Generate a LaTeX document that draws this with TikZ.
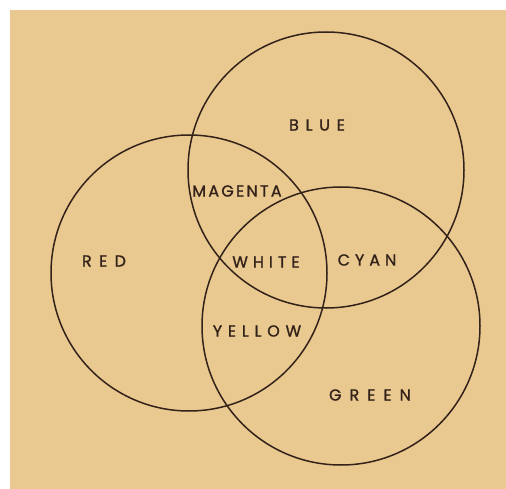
\documentclass[tikz,border=0pt]{standalone}
\usepackage{fontspec}
\newfontfamily\labelfont{Poppins}[FakeBold=1.2]
\definecolor{tan}{RGB}{234,201,144}
\definecolor{ink}{RGB}{50,34,26}
\begin{document}
\begin{tikzpicture}[x=1pt,y=-1pt,
  ring/.style={draw=ink,line width=1.5pt},
  lbl/.style={font=\labelfont\fontsize{16}{18}\selectfont, text=ink, inner sep=0pt}]
\useasboundingbox (0,0) rectangle (506,489);
\fill[white] (0,0) rectangle (506,489);
\fill[tan] (10,10) rectangle (506,489);
\draw[ring] (326,170) circle (138);
\draw[ring] (189,273) circle (138);
\draw[ring] (341,326) circle (139);
\node[lbl] (blue) at (317,125) {\addfontfeatures{LetterSpace=42}BLUE};
\node[lbl] (magenta) at (237,191) {\addfontfeatures{LetterSpace=14}MAGENTA};
\node[lbl] (red) at (104,261) {\addfontfeatures{LetterSpace=46}RED};
\node[lbl] (white) at (266,262) {\addfontfeatures{LetterSpace=31}WHITE};
\node[lbl] (cyan) at (367,260) {\addfontfeatures{LetterSpace=31}CYAN};
\node[lbl] (yellow) at (257,331) {\addfontfeatures{LetterSpace=36}YELLOW};
\node[lbl] (green) at (370,395) {\addfontfeatures{LetterSpace=50}GREEN};
\end{tikzpicture}
\end{document}
